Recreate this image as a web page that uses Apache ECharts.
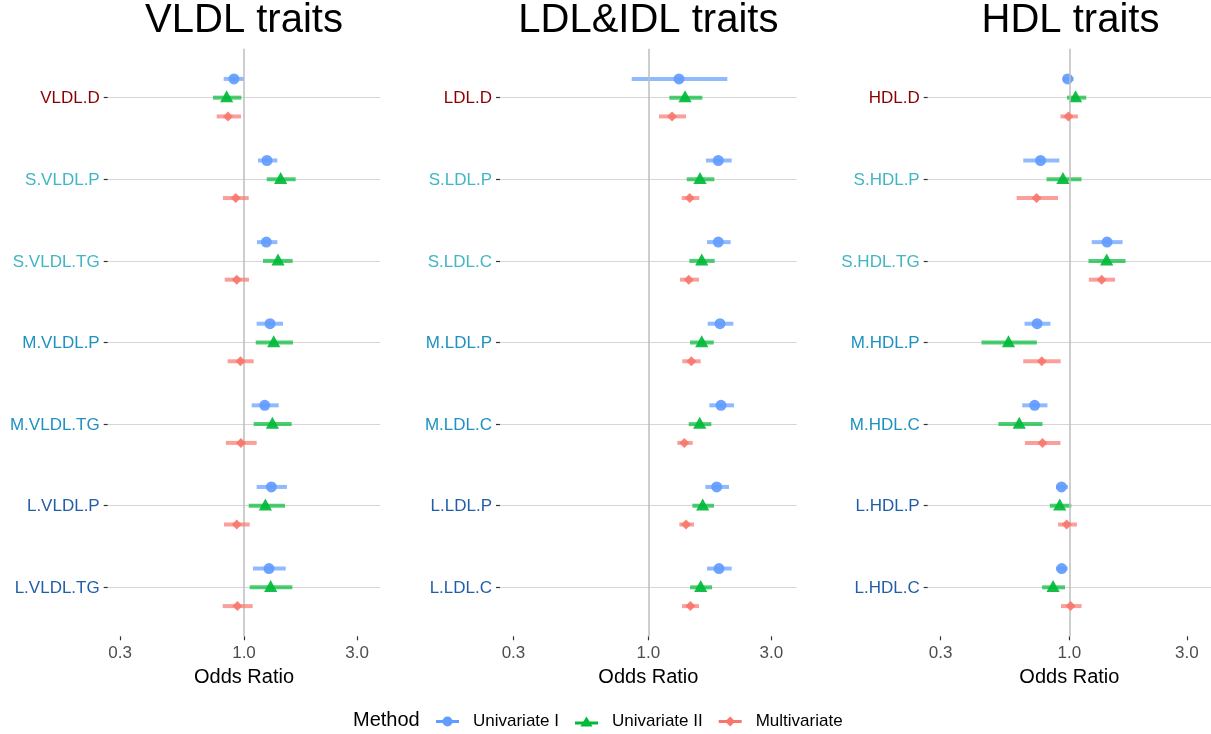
<!DOCTYPE html>
<html>
<head>
<meta charset="utf-8">
<script src="https://cdn.jsdelivr.net/npm/echarts@6/dist/echarts.min.js"></script>
<style>
  html, body { margin: 0; padding: 0; background: #ffffff; }
  #chart { width: 1211px; height: 734px; }
</style>
</head>
<body>
<div id="chart"></div>
<script>
// ---------------- DATA ----------------
// Each entry: [odds ratio, lower CI, upper CI]
const vldlCats = ['VLDL.D', 'S.VLDL.P', 'S.VLDL.TG', 'M.VLDL.P', 'M.VLDL.TG', 'L.VLDL.P', 'L.VLDL.TG'];
const vldlUni1 = [[0.907, 0.821, 1.000], [1.250, 1.146, 1.383], [1.243, 1.135, 1.383], [1.288, 1.131, 1.461], [1.223, 1.078, 1.401], [1.305, 1.131, 1.518], [1.275, 1.091, 1.500]];
const vldlUni2 = [[0.845, 0.740, 0.975], [1.428, 1.247, 1.652], [1.392, 1.203, 1.605], [1.335, 1.121, 1.609], [1.318, 1.099, 1.589], [1.231, 1.047, 1.489], [1.296, 1.057, 1.600]];
const vldlMulti = [[0.856, 0.767, 0.971], [0.923, 0.815, 1.047], [0.932, 0.829, 1.050], [0.966, 0.853, 1.099], [0.971, 0.839, 1.131], [0.932, 0.823, 1.057], [0.938, 0.813, 1.088]];

const ldlCats = ['LDL.D', 'S.LDL.P', 'S.LDL.C', 'M.LDL.P', 'M.LDL.C', 'L.LDL.P', 'L.LDL.C'];
const ldlUni1 = [[1.315, 0.862, 2.024], [1.867, 1.674, 2.105], [1.867, 1.689, 2.086], [1.896, 1.699, 2.135], [1.913, 1.723, 2.148], [1.841, 1.664, 2.055], [1.879, 1.689, 2.105]];
const ldlUni2 = [[1.388, 1.206, 1.620], [1.586, 1.409, 1.803], [1.611, 1.442, 1.809], [1.611, 1.451, 1.793], [1.582, 1.434, 1.755], [1.625, 1.481, 1.798], [1.596, 1.451, 1.766]];
const ldlMulti = [[1.236, 1.100, 1.400], [1.447, 1.347, 1.576], [1.434, 1.327, 1.572], [1.468, 1.354, 1.596], [1.379, 1.295, 1.486], [1.400, 1.319, 1.503], [1.455, 1.351, 1.572]];

const hdlCats = ['HDL.D', 'S.HDL.P', 'S.HDL.TG', 'M.HDL.P', 'M.HDL.C', 'L.HDL.P', 'L.HDL.C'];
const hdlUni1 = [[0.984, 0.942, 1.041], [0.764, 0.650, 0.911], [1.423, 1.233, 1.645], [0.740, 0.658, 0.838], [0.723, 0.644, 0.815], [0.929, 0.883, 0.987], [0.931, 0.883, 0.984]];
const hdlUni2 = [[1.060, 0.978, 1.171], [0.942, 0.808, 1.121], [1.418, 1.196, 1.691], [0.566, 0.440, 0.738], [0.626, 0.515, 0.778], [0.914, 0.833, 1.019], [0.859, 0.775, 0.960]];
const hdlMulti = [[0.991, 0.920, 1.083], [0.736, 0.611, 0.900], [1.353, 1.200, 1.533], [0.773, 0.650, 0.922], [0.778, 0.660, 0.920], [0.975, 0.900, 1.073], [1.012, 0.925, 1.121]];

const panelTitles = ['VLDL traits', 'LDL&IDL traits', 'HDL traits'];
const methodNames = ['Univariate I', 'Univariate II', 'Multivariate'];
const xTicks = [0.3, 1, 3];
const refLine = 1;
const axisTitle = 'Odds Ratio';
const legendTitle = 'Method';

// ---------------- STYLE / LAYOUT ----------------
const FONT = "'Liberation Sans', Arial, Helvetica, sans-serif";
const X_MIN = 0.266, X_MAX = 3.76;
const GRID_TOP = 48.7, GRID_H = 587.6;
const gridsLayout = [
  { left: 107.7, width: 272.6 },
  { left: 500.0, width: 296.7 },
  { left: 927.7, width: 285.6 }
];
const methodColors = ['#619CFF', '#00BA38', '#F8766D'];
const methodShapes = ['circle', 'triangle', 'diamond'];
const methodOffsets = [-0.23, 0, 0.23];
const labelColors = { D: '#8B0000', S: '#41B6C4', M: '#1D91C0', L: '#225EA8' };

const panels = [
  { cats: vldlCats, sets: [vldlUni1, vldlUni2, vldlMulti] },
  { cats: ldlCats, sets: [ldlUni1, ldlUni2, ldlMulti] },
  { cats: hdlCats, sets: [hdlUni1, hdlUni2, hdlMulti] }
];

function groupOf(name) {
  if (name.startsWith('S.')) return 'S';
  if (name.startsWith('M.')) return 'M';
  if (name.startsWith('L.')) return 'L';
  return 'D';
}

function makeRender(shape, color, off) {
  return function (params, api) {
    const yv = api.value(3) + off;
    const a = api.coord([api.value(0), yv]);
    const b = api.coord([api.value(1), yv]);
    const p = api.coord([api.value(2), yv]);
    let marker;
    if (shape === 'circle') {
      marker = { type: 'circle', shape: { cx: p[0], cy: p[1], r: 5.5 }, style: { fill: color, opacity: 0.92 } };
    } else if (shape === 'triangle') {
      marker = { type: 'polygon', shape: { points: [[p[0], p[1] - 7.3], [p[0] + 6.6, p[1] + 4.7], [p[0] - 6.6, p[1] + 4.7]] }, style: { fill: color, opacity: 0.92 } };
    } else {
      marker = { type: 'polygon', shape: { points: [[p[0], p[1] - 5], [p[0] + 5, p[1]], [p[0], p[1] + 5], [p[0] - 5, p[1]]] }, style: { fill: color, opacity: 0.92 } };
    }
    return {
      type: 'group',
      children: [
        { type: 'line', shape: { x1: a[0], y1: a[1], x2: b[0], y2: b[1] }, style: { stroke: color, lineWidth: 4, opacity: 0.7, lineCap: 'butt' } },
        marker
      ]
    };
  };
}

const grids = [], xAxes = [], yAxes = [], series = [], titles = [];
panels.forEach(function (pn, i) {
  const g = gridsLayout[i];
  grids.push({ left: g.left, top: GRID_TOP, width: g.width, height: GRID_H, containLabel: false });
  titles.push({
    text: panelTitles[i], left: g.left + g.width / 2, top: 1, textAlign: 'center', padding: 0,
    textStyle: { fontFamily: FONT, fontSize: 40, fontWeight: 'normal', color: '#000000' }
  });
  xAxes.push({
    type: 'log', logBase: 10, gridIndex: i, min: X_MIN, max: X_MAX,
    name: axisTitle, nameLocation: 'middle', nameGap: 29,
    nameTextStyle: { fontFamily: FONT, fontSize: 20, color: '#000000' },
    axisLine: { show: false },
    axisTick: { show: true, length: 4, customValues: xTicks, lineStyle: { color: '#333333', width: 1.2 } },
    axisLabel: { customValues: xTicks, margin: 9, fontFamily: FONT, fontSize: 17, color: '#4D4D4D',
      formatter: function (v) { return Number(v).toFixed(1); } },
    splitLine: { show: false },
    minorTick: { show: false }, minorSplitLine: { show: false }
  });
  const ticks = pn.cats.map(function (c, k) { return k + 1; });
  yAxes.push({
    type: 'value', gridIndex: i, min: 0.4, max: 7.6, inverse: true,
    axisLine: { show: false },
    axisTick: { show: true, length: 4, customValues: ticks, lineStyle: { color: '#333333', width: 1.2 } },
    axisLabel: {
      customValues: ticks, margin: 8, fontFamily: FONT, fontSize: 17, padding: [2, 0, 0, 0],
      formatter: function (v) {
        const name = pn.cats[Math.round(v) - 1];
        return '{' + groupOf(name) + '|' + name + '}';
      },
      rich: {
        D: { color: labelColors.D, fontFamily: FONT, fontSize: 17 },
        S: { color: labelColors.S, fontFamily: FONT, fontSize: 17 },
        M: { color: labelColors.M, fontFamily: FONT, fontSize: 17 },
        L: { color: labelColors.L, fontFamily: FONT, fontSize: 17 }
      }
    },
    splitLine: { show: true, lineStyle: { color: '#D6D6D6', width: 1.2 } }
  });
  // reference line at OR = 1
  series.push({
    type: 'line', xAxisIndex: i, yAxisIndex: i, data: [], z: 1, silent: true,
    markLine: {
      silent: true, symbol: 'none', animation: false,
      label: { show: false },
      lineStyle: { color: '#BEBEBE', width: 1.5, type: 'solid' },
      data: [{ xAxis: refLine }]
    }
  });
  pn.sets.forEach(function (set, m) {
    series.push({
      type: 'custom', name: methodNames[m], xAxisIndex: i, yAxisIndex: i, z: 3 + m,
      itemStyle: { color: methodColors[m] },
      encode: { x: [0, 1, 2], y: 3 },
      data: set.map(function (t, k) { return [t[1], t[2], t[0], k + 1]; }),
      renderItem: makeRender(methodShapes[m], methodColors[m], methodOffsets[m])
    });
  });
});

titles.push({
  text: legendTitle, left: 353, top: 710, padding: 0,
  textStyle: { fontFamily: FONT, fontSize: 20, fontWeight: 'normal', color: '#000000' }
});

const icons = [
  'path://M0,4.5H23V7.5H0Z M6.5,6A5,5,0,1,1,16.5,6A5,5,0,1,1,6.5,6Z',
  'path://M0,5H23V8H0Z M11.5,0L17.5,10L5.5,10Z',
  'path://M0,4H23V7H0Z M11.5,0.5L16.5,5.5L11.5,10.5L6.5,5.5Z'
];

const option = {
  animation: false,
  backgroundColor: '#ffffff',
  title: titles,
  legend: {
    left: 436, top: 713, padding: 0, orient: 'horizontal',
    itemWidth: 23, itemHeight: 12, itemGap: 16,
    data: methodNames.map(function (n, m) { return { name: n, icon: icons[m] }; }),
    textStyle: { fontFamily: FONT, fontSize: 17, color: '#000000', padding: [0, 0, 0, 9] }
  },
  grid: grids,
  xAxis: xAxes,
  yAxis: yAxes,
  series: series
};

const chart = echarts.init(document.getElementById('chart'), null, { renderer: 'canvas' });
chart.setOption(option);
</script>
</body>
</html>
